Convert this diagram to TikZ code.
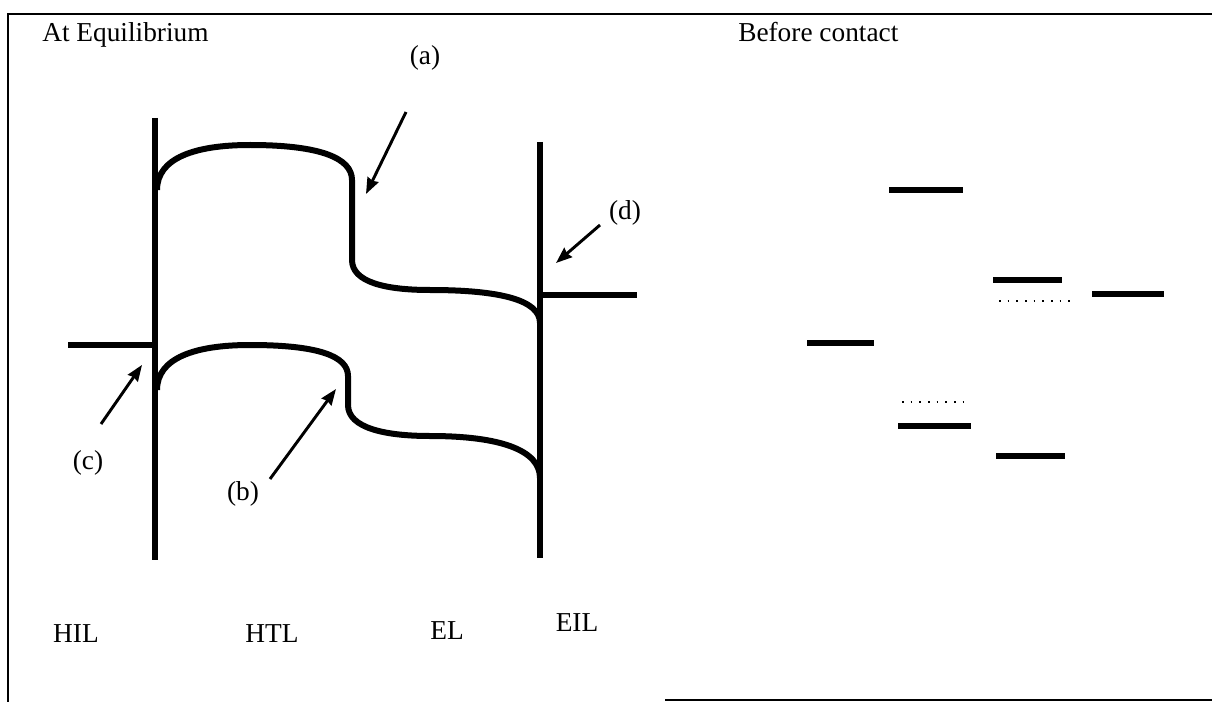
\documentclass[tikz,border=0pt]{standalone}
\usepackage{fontspec}
\setmainfont{Liberation Serif}
\usetikzlibrary{arrows.meta}

\begin{document}
\begin{tikzpicture}[x=0.75pt, y=-0.75pt,
    lbl/.style={inner sep=0pt, font=\fontsize{20.5}{24}\selectfont},
    band/.style={line width=4.5pt, line join=round},
    bar/.style={line width=4.5pt},
    level/.style={line width=4.5pt},
    vacuum/.style={line width=1.3pt, dash pattern=on 1.3pt off 5.2pt},
    pointer/.style={-{Stealth[length=12pt, width=9pt, inset=1pt]}, line width=2.2pt},
    frame/.style={line width=1.6pt}
  ]
    \useasboundingbox (0,0) rectangle (1212,702);

    % frame
    \draw[frame] (8,702) -- (8,14) -- (1212,14);
    \draw[frame] (665,700) -- (1212,700);

    % titles
    \node[lbl, anchor=base west] (eq) at (42,42) {At Equilibrium};
    \node[lbl, anchor=base west] (bc) at (738,42) {Before contact};

    % interfaces
    \coordinate (l1) at (155,118);
    \coordinate (l2) at (155,560);
    \coordinate (r1) at (540,142);
    \coordinate (r2) at (540,558);
    \draw[bar] (l1) -- (l2);
    \draw[bar] (r1) -- (r2);

    % electrode levels
    \coordinate (hil1) at (68,345);
    \coordinate (hil2) at (155,345);
    \coordinate (eil1) at (540,295);
    \coordinate (eil2) at (637,295);
    \draw[level] (hil1) -- (hil2);
    \draw[level] (eil1) -- (eil2);

    % LUMO
    \draw[band] (157,190) .. controls (157,158) and (195,145) .. (250,145)
      .. controls (320,145) and (352,158) .. (352,180) -- (352,260)
      .. controls (352,282) and (385,290) .. (430,290)
      .. controls (500,290) and (540,300) .. (540,323);
    % HOMO
    \draw[band] (157,390) .. controls (157,358) and (195,345) .. (250,345)
      .. controls (318,345) and (348,356) .. (348,376) -- (348,405)
      .. controls (348,428) and (385,436) .. (430,436)
      .. controls (500,436) and (540,450) .. (540,478);

    % annotations
    \node[lbl] (a) at (425,58) {(a)};
    \node[lbl] (b) at (243,494) {(b)};
    \node[lbl] (c) at (88,463) {(c)};
    \node[lbl] (d) at (625,213) {(d)};
    \coordinate (a0) at (406,112);
    \coordinate (a1) at (366,194);
    \coordinate (b0) at (270,479);
    \coordinate (b1) at (336,389);
    \coordinate (c0) at (101,424);
    \coordinate (c1) at (142,365);
    \coordinate (d0) at (600,225);
    \coordinate (d1) at (556,263);
    \draw[pointer] (a0) -- (a1);
    \draw[pointer] (b0) -- (b1);
    \draw[pointer] (c0) -- (c1);
    \draw[pointer] (d0) -- (d1);

    % layer names
    \node[lbl] (hil) at (76,634) {HIL};
    \node[lbl] (htl) at (272,634) {HTL};
    \node[lbl] (el) at (447,631) {EL};
    \node[lbl] (eil) at (577,623) {EIL};

    % levels before contact
    \draw[level] (807,343) -- (874,343);
    \draw[level] (889,190) -- (963,190);
    \draw[level] (898,426) -- (971,426);
    \draw[vacuum] (902,402) -- (968,402);
    \draw[level] (993,280) -- (1062,280);
    \draw[vacuum] (999,301) -- (1073,301);
    \draw[level] (996,456) -- (1065,456);
    \draw[level] (1092,294) -- (1164,294);
  \end{tikzpicture}
\end{document}
